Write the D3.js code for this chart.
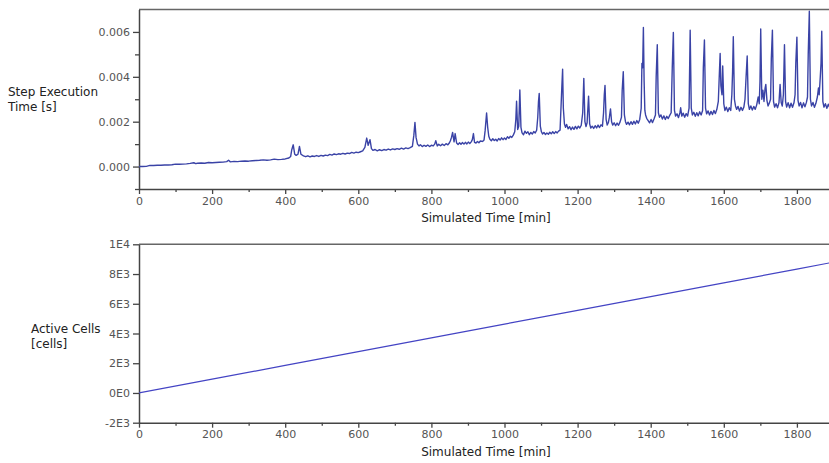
<!DOCTYPE html>
<html>
<head>
<meta charset="utf-8">
<script src="https://cdn.jsdelivr.net/npm/d3@7"></script>
<style>
  html, body { margin: 0; padding: 0; background: #fff; overflow: hidden; }
  svg { display: block; font-family: "DejaVu Sans", Verdana, sans-serif; }
</style>
</head>
<body>
<svg id="chart" width="829" height="463"></svg>
<script>
// ---- Data ----
// Step execution time: [simulated time (min), step execution time (ms)]
const stepSeries = [
[0,0.00],[10,0.00],[20,0.01],[30,0.05],[40,0.05],[50,0.06],[60,0.06],[70,0.07],[80,0.07],[90,0.08],
[100,0.11],[110,0.10],[120,0.11],[130,0.12],[140,0.14],[150,0.17],[155,0.13],[160,0.15],[170,0.16],[180,0.15],
[190,0.18],[200,0.17],[210,0.18],[220,0.19],[230,0.20],[240,0.22],[245,0.28],[250,0.21],[260,0.23],[270,0.22],
[280,0.24],[290,0.25],[300,0.24],[310,0.26],[320,0.27],[330,0.28],[340,0.30],[350,0.28],[360,0.30],[370,0.33],
[380,0.31],[390,0.32],[400,0.34],[410,0.38],[415,0.45],[418,0.75],[422,0.97],[426,0.55],[430,0.50],[435,0.55],
[439,0.90],[443,0.55],[450,0.48],[456,0.44],[462,0.48],[468,0.43],[474,0.47],[480,0.45],[486,0.49],[492,0.45],
[498,0.50],[504,0.47],[510,0.51],[516,0.49],[522,0.54],[528,0.51],[534,0.56],[540,0.53],[546,0.57],[552,0.55],
[558,0.59],[564,0.56],[570,0.60],[576,0.58],[582,0.63],[588,0.60],[594,0.64],[600,0.62],[606,0.66],[612,0.70],
[618,0.85],[623,1.27],[627,0.95],[632,1.20],[636,0.80],[640,0.72],[646,0.76],[652,0.70],[658,0.75],[664,0.71],
[670,0.76],[676,0.73],[682,0.78],[688,0.74],[694,0.79],[700,0.76],[706,0.80],[712,0.77],[718,0.82],[724,0.78],
[730,0.83],[736,0.80],[742,0.84],[748,0.90],[752,1.40],[755,1.97],[758,1.30],[762,1.00],[766,0.92],[770,0.97],
[775,0.89],[780,0.95],[785,0.90],[790,0.96],[795,0.89],[800,0.95],[805,0.92],[809,1.00],[812,1.15],[816,0.92],
[820,0.99],[825,0.93],[830,1.00],[835,0.94],[840,1.02],[845,0.97],[849,1.05],[852,1.15],[855,1.30],[858,1.52],
[862,1.10],[865,1.47],[869,1.05],[873,0.98],[877,1.06],[881,0.99],[885,1.07],[889,1.00],[893,1.08],[897,1.01],
[901,1.09],[905,1.03],[909,1.10],[912,1.20],[915,1.47],[918,1.08],[922,1.05],[926,1.12],[930,1.06],[934,1.14],
[940,1.12],[944,1.18],[947,1.60],[951,2.39],[954,1.75],[957,1.35],[960,1.22],[964,1.15],[968,1.24],[972,1.16],
[976,1.22],[980,1.14],[984,1.25],[988,1.18],[992,1.28],[996,1.20],[1000,1.27],[1004,1.21],[1008,1.33],[1012,1.26],
[1016,1.35],[1020,1.30],[1024,1.40],[1028,1.55],[1031,2.10],[1033,2.91],[1036,1.65],[1039,1.80],[1042,3.41],[1045,1.75],
[1048,1.50],[1052,1.42],[1056,1.58],[1060,1.48],[1064,1.55],[1068,1.42],[1072,1.52],[1076,1.45],[1080,1.56],[1084,1.50],
[1088,1.62],[1091,2.20],[1093,2.90],[1095,3.26],[1098,1.80],[1101,1.55],[1104,1.45],[1108,1.52],[1112,1.43],[1116,1.50],
[1120,1.44],[1124,1.53],[1128,1.46],[1132,1.55],[1136,1.47],[1140,1.56],[1144,1.50],[1148,1.58],[1152,1.62],[1155,2.80],
[1157,3.60],[1159,4.34],[1161,2.60],[1164,1.90],[1167,1.75],[1170,1.88],[1174,1.68],[1178,1.78],[1182,1.64],[1186,1.76],
[1190,1.66],[1194,1.79],[1198,1.68],[1202,1.80],[1206,1.72],[1210,1.84],[1214,2.40],[1217,3.93],[1220,2.00],[1223,1.78],
[1226,1.95],[1230,3.14],[1233,1.90],[1236,1.72],[1240,1.80],[1244,1.70],[1248,1.82],[1252,1.72],[1256,1.85],[1260,1.74],
[1264,1.86],[1268,1.80],[1271,2.40],[1273,3.20],[1275,3.62],[1278,2.10],[1281,1.85],[1284,1.95],[1287,2.20],[1290,2.57],
[1293,2.00],[1296,1.85],[1300,1.95],[1304,1.82],[1308,1.94],[1312,1.84],[1316,1.98],[1320,2.20],[1322,3.40],[1325,4.23],
[1328,2.30],[1331,2.00],[1334,1.88],[1338,1.98],[1342,1.86],[1346,2.00],[1350,1.88],[1354,2.02],[1358,1.90],[1362,2.05],
[1366,1.93],[1370,2.10],[1374,2.60],[1376,4.60],[1378,4.40],[1380,6.20],[1382,3.80],[1384,2.50],[1386,2.30],[1389,2.15],
[1393,2.05],[1397,1.95],[1401,2.10],[1405,1.96],[1409,2.12],[1413,2.30],[1415,4.00],[1418,5.43],[1421,2.40],[1424,2.20],
[1428,2.30],[1432,2.12],[1436,2.26],[1440,2.10],[1444,2.24],[1448,2.14],[1452,2.28],[1456,2.40],[1459,4.40],[1462,5.98],
[1465,2.50],[1468,2.25],[1472,2.35],[1476,2.18],[1480,2.40],[1482,2.62],[1485,2.25],[1489,2.38],[1493,2.20],[1497,2.36],
[1501,2.25],[1505,2.60],[1508,6.08],[1511,2.60],[1514,2.30],[1518,2.42],[1522,2.24],[1526,2.40],[1530,2.26],[1534,2.44],
[1538,2.30],[1542,2.50],[1544,4.40],[1547,5.64],[1550,2.60],[1553,2.35],[1557,2.48],[1561,2.30],[1565,2.46],[1569,2.32],
[1573,2.50],[1577,2.36],[1581,2.55],[1585,2.90],[1588,4.20],[1590,5.04],[1592,3.60],[1595,3.20],[1597,4.48],[1600,2.80],
[1603,2.50],[1607,2.65],[1611,2.45],[1615,2.62],[1619,2.50],[1622,3.20],[1624,4.20],[1626,5.79],[1629,3.00],[1632,2.70],
[1635,2.55],[1639,2.68],[1643,2.48],[1647,2.64],[1651,2.50],[1655,2.66],[1658,3.00],[1661,4.00],[1664,4.93],[1667,2.80],
[1670,2.55],[1674,2.70],[1678,2.52],[1682,2.68],[1686,2.55],[1690,2.75],[1694,3.10],[1697,2.80],[1699,3.80],[1701,6.13],
[1704,3.00],[1707,3.40],[1710,2.90],[1713,3.50],[1715,3.66],[1718,2.95],[1721,2.70],[1725,2.85],[1728,3.00],[1730,4.80],
[1733,6.08],[1736,2.90],[1739,2.65],[1743,2.80],[1747,2.62],[1751,2.85],[1754,3.66],[1757,2.85],[1760,2.70],[1763,3.20],
[1766,5.43],[1769,2.90],[1772,2.65],[1776,2.85],[1780,2.62],[1784,2.82],[1788,2.64],[1792,2.84],[1795,3.20],[1797,4.60],
[1800,5.77],[1803,2.95],[1806,2.70],[1810,2.86],[1814,2.62],[1818,2.84],[1822,2.66],[1826,2.86],[1829,3.10],[1831,5.00],
[1834,6.92],[1837,3.00],[1840,2.70],[1844,2.86],[1848,2.64],[1852,2.82],[1856,3.10],[1859,3.50],[1861,3.20],[1864,4.00],
[1866,4.60],[1868,6.03],[1871,2.90],[1874,2.65],[1878,2.80],[1882,2.60],[1886,2.78],[1890,2.62],[1895,2.75]
];

// Active cells [cells]
const cellTimes = [0,200,400,600,800,1000,1200,1400,1600,1800,1900];
const cellCounts = [0,930,1850,2780,3700,4630,5560,6480,7410,8330,8800];

// Tick values / labels
const xMajorTicks = [0,200,400,600,800,1000,1200,1400,1600,1800];
const xMinorTicks = [100,300,500,700,900,1100,1300,1500,1700];
const stepMajorTicks = [0,2,4,6];          // ms
const stepTickLabels = ["0.000","0.002","0.004","0.006"];
const stepMinorTicks = [-1,1,3,5];
const cellTicks = [-2000,0,2000,4000,6000,8000,10000];
const cellTickLabels = ["-2E3","0E0","2E3","4E3","6E3","8E3","1E4"];

// ---- Layout ----
const svg = d3.select("#chart");
const left = 139, right = 870;
const top1 = 9.5, bot1 = 189;
const top2 = 244.3, bot2 = 422.7;
const axisColor = "#444";
const tickTextColor = "#555";

const x = d3.scaleLinear().domain([0, 2000]).range([left, right]);
const y1 = d3.scaleLinear().domain([-1, 7]).range([bot1, top1]);
const y2 = d3.scaleLinear().domain([-2000, 10000]).range([bot2, top2]);

function styleAxis(g) {
  g.selectAll("path.domain").attr("stroke", axisColor).attr("stroke-width", 1.5);
  g.selectAll(".tick line").attr("stroke", axisColor).attr("stroke-width", 1.3);
  g.selectAll(".tick text").attr("fill", tickTextColor).style("font-size", "11px")
    .style("font-family", '"DejaVu Sans", sans-serif');
}

function drawPanel(yScale, top, bot, yMajor, yLabels, yMinor, times, values, lineColor, lineWidth, titleLines, titleX, titleY) {
  const g = svg.append("g");
  g.append("line").attr("x1", left).attr("x2", right).attr("y1", top).attr("y2", top)
    .attr("stroke", "#666").attr("stroke-width", 1.5);

  g.append("g").attr("transform", `translate(0,${bot})`)
    .call(d3.axisBottom(x).tickValues(xMinorTicks).tickSize(3).tickFormat(""))
    .call(styleAxis).call(s => s.select("path.domain").remove());
  g.append("g").attr("transform", `translate(0,${bot})`)
    .call(d3.axisBottom(x).tickValues(xMajorTicks).tickSize(5).tickSizeOuter(0).tickPadding(3).tickFormat(d3.format("d")))
    .call(styleAxis);

  if (yMinor.length) {
    g.append("g").attr("transform", `translate(${left},0)`)
      .call(d3.axisLeft(yScale).tickValues(yMinor).tickSize(4).tickFormat(""))
      .call(styleAxis).call(s => s.select("path.domain").remove());
  }
  g.append("g").attr("transform", `translate(${left},0)`)
    .call(d3.axisLeft(yScale).tickValues(yMajor).tickSize(6).tickSizeOuter(0).tickPadding(3)
      .tickFormat(d => yLabels[yMajor.indexOf(d)]))
    .call(styleAxis);

  const cid = "clip" + Math.round(top);
  svg.append("clipPath").attr("id", cid).append("rect")
    .attr("x", left).attr("y", top).attr("width", right - left).attr("height", bot - top);

  const line = d3.line().x((d, i) => x(times[i])).y((d, i) => yScale(values[i]));
  g.append("path").datum(values).attr("clip-path", `url(#${cid})`)
    .attr("d", line).attr("fill", "none").attr("stroke", lineColor)
    .attr("stroke-width", lineWidth).attr("stroke-linejoin", "round");

  g.append("text").attr("x", 486).attr("y", bot + 33).attr("text-anchor", "middle")
    .attr("fill", "#222").style("font-size", "12px").text("Simulated Time [min]");

  const t = g.append("text").attr("x", titleX).attr("y", titleY).attr("fill", "#222").style("font-size", "12px");
  titleLines.forEach((s, i) => t.append("tspan").attr("x", titleX).attr("dy", i ? 15 : 0).text(s));
}

drawPanel(y1, top1, bot1, stepMajorTicks, stepTickLabels, stepMinorTicks,
  stepSeries.map(d => d[0]), stepSeries.map(d => d[1]), "#3a43a6", 1.4,
  ["Step Execution", "Time [s]"], 8, 96);

drawPanel(y2, top2, bot2, cellTicks, cellTickLabels, [],
  cellTimes, cellCounts, "#4444c4", 1.2, ["Active Cells", "[cells]"], 31, 333);
</script>
</body>
</html>
